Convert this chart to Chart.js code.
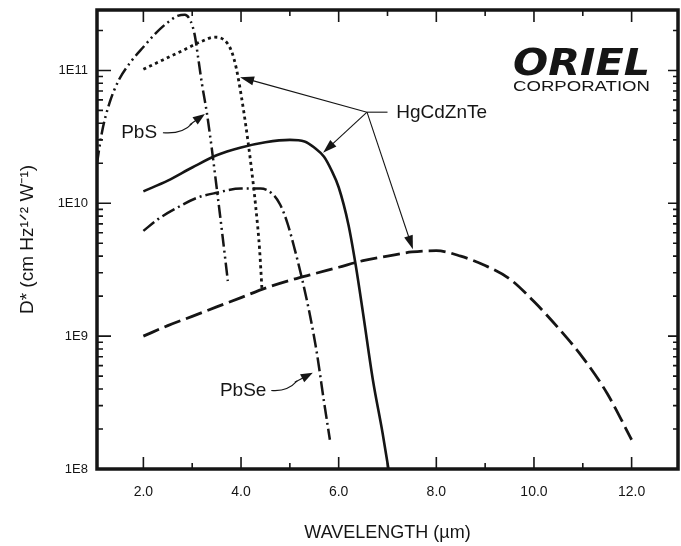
<!DOCTYPE html>
<html>
<head>
<meta charset="utf-8">
<script src="https://cdn.jsdelivr.net/npm/chart.js@4.4.1/dist/chart.umd.min.js"></script>
<style>
  html, body { margin: 0; padding: 0; background: #fff; }
  #wrap { width: 681px; height: 546px; position: relative; }
</style>
</head>
<body>
<div id="wrap"><canvas id="detector-chart"></canvas></div>
<script>
// wavelength in um, D* in cm Hz^1/2 W^-1
const pbsWavelength = [1.05, 1.15, 1.3, 1.5, 1.75, 2.0, 2.25, 2.5, 2.7, 2.85, 2.97, 3.05, 3.12, 3.2, 3.3, 3.4, 3.5, 3.6, 3.73];
const pbsDetectivity = [2.0e10, 3.4e10, 5.6e10, 8.5e10, 1.17e11, 1.5e11, 1.9e11, 2.3e11, 2.57e11, 2.63e11, 2.34e11, 1.86e11, 1.26e11, 7.9e10, 4.8e10, 2.6e10, 1.32e10, 6.6e9, 2.6e9];

const hgShortWavelength = [2.0, 2.4, 2.8, 3.2, 3.45, 3.65, 3.8, 3.9, 4.0, 4.1, 4.2, 4.3, 4.38, 4.43];
const hgShortDetectivity = [1.02e11, 1.2e11, 1.41e11, 1.66e11, 1.78e11, 1.7e11, 1.41e11, 1.05e11, 6.6e10, 3.8e10, 2.0e10, 9.5e9, 4.5e9, 2.2e9];

const hgMidWavelength = [2.0, 2.5, 3.0, 3.5, 4.0, 4.5, 5.0, 5.3, 5.5, 5.7, 5.85, 6.0, 6.2, 6.35, 6.5, 6.7, 6.9, 7.02];
const hgMidDetectivity = [1.23e10, 1.48e10, 1.86e10, 2.3e10, 2.63e10, 2.88e10, 3.0e10, 2.92e10, 2.63e10, 2.24e10, 1.78e10, 1.32e10, 6.9e9, 3.4e9, 1.48e9, 4.7e8, 1.86e8, 1.0e8];

const pbseWavelength = [2.0, 2.3, 2.7, 3.1, 3.5, 4.0, 4.4, 4.65, 4.8, 4.95, 5.1, 5.25, 5.4, 5.55, 5.7, 5.82];
const pbseDetectivity = [6.2e9, 7.6e9, 9.3e9, 1.1e10, 1.2e10, 1.29e10, 1.29e10, 1.17e10, 9.8e9, 7.1e9, 4.5e9, 2.7e9, 1.51e9, 7.6e8, 3.2e8, 1.66e8];

const hgLongWavelength = [2.0, 2.5, 3.0, 3.5, 4.0, 4.5, 5.0, 5.5, 6.0, 6.5, 7.0, 7.5, 8.0, 8.5, 9.0, 9.5, 10.0, 10.5, 11.0, 11.5, 12.0];
const hgLongDetectivity = [1.0e9, 1.2e9, 1.41e9, 1.66e9, 1.95e9, 2.3e9, 2.63e9, 2.95e9, 3.3e9, 3.7e9, 4.0e9, 4.3e9, 4.4e9, 4.0e9, 3.4e9, 2.7e9, 1.82e9, 1.15e9, 6.9e8, 3.7e8, 1.66e8];

const xMajorValues = [2, 4, 6, 8, 10, 12];
const xTickLabels = ['2.0', '4.0', '6.0', '8.0', '10.0', '12.0'];
const xMinorValues = [3, 5, 7, 9, 11];
const yMajorValues = [1e8, 1e9, 1e10, 1e11];
const yTickLabels = ['1E8', '1E9', '1E10', '1E11'];

const ink = '#151515';
const fontName = "'Liberation Sans', Arial, sans-serif";

function toPoints(xs, ys) {
  return xs.map((v, i) => ({ x: v, y: ys[i] }));
}

function yMinorValues() {
  const out = [];
  [1e8, 1e9, 1e10, 1e11].forEach(d => {
    for (let m = 2; m <= 9; m++) {
      if (m * d < 2.85e11) out.push(m * d);
    }
  });
  return out;
}

function curve(label, xs, ys, dash, width) {
  return {
    label: label,
    data: toPoints(xs, ys),
    borderColor: ink,
    borderWidth: width,
    borderDash: dash,
    borderCapStyle: 'butt',
    pointRadius: 0,
    cubicInterpolationMode: 'monotone',
    fill: false
  };
}

function drawArrow(ctx, x0, y0, x1, y1, head) {
  const ang = Math.atan2(y1 - y0, x1 - x0);
  ctx.beginPath();
  ctx.moveTo(x0, y0);
  ctx.lineTo(x1 - Math.cos(ang) * head * 0.8, y1 - Math.sin(ang) * head * 0.8);
  ctx.stroke();
  ctx.beginPath();
  ctx.moveTo(x1, y1);
  ctx.lineTo(x1 - head * Math.cos(ang) + 4.5 * Math.sin(ang), y1 - head * Math.sin(ang) - 4.5 * Math.cos(ang));
  ctx.lineTo(x1 - head * Math.cos(ang) - 4.5 * Math.sin(ang), y1 - head * Math.sin(ang) + 4.5 * Math.cos(ang));
  ctx.closePath();
  ctx.fill();
}

const frameAndTicks = {
  id: 'frameAndTicks',
  afterDatasetsDraw(chart) {
    const { ctx, chartArea: a, scales: { x, y } } = chart;
    ctx.save();
    ctx.strokeStyle = ink;
    ctx.lineWidth = 1.6;
    ctx.beginPath();
    xMajorValues.concat(xMinorValues).forEach(v => {
      const px = x.getPixelForValue(v);
      const len = xMajorValues.includes(v) ? 12 : 6;
      ctx.moveTo(px, a.bottom);
      ctx.lineTo(px, a.bottom - len);
      ctx.moveTo(px, a.top);
      ctx.lineTo(px, a.top + len);
    });
    const minors = yMinorValues();
    yMajorValues.concat(minors).forEach(v => {
      const py = y.getPixelForValue(v);
      const major = yMajorValues.includes(v);
      ctx.moveTo(a.left, py);
      ctx.lineTo(a.left + (major ? 14 : 6), py);
      ctx.moveTo(a.right, py);
      ctx.lineTo(a.right - (major ? 10 : 5), py);
    });
    ctx.stroke();
    ctx.lineWidth = 3.5;
    ctx.strokeRect(a.left, a.top, a.right - a.left, a.bottom - a.top);
    ctx.restore();
  }
};

const callouts = {
  id: 'callouts',
  afterDatasetsDraw(chart) {
    const { ctx, chartArea: a, scales: { x, y } } = chart;
    const X = v => x.getPixelForValue(v);
    const Y = v => y.getPixelForValue(v);
    ctx.save();
    ctx.fillStyle = ink;
    ctx.strokeStyle = ink;
    ctx.lineWidth = 1.1;
    ctx.font = '19px ' + fontName;
    ctx.textBaseline = 'middle';

    // PbS
    ctx.textAlign = 'right';
    ctx.fillText('PbS', X(2.28), Y(3.4e10));
    ctx.beginPath();
    ctx.moveTo(X(2.4), Y(3.4e10));
    ctx.quadraticCurveTo(X(2.8), Y(3.3e10), X(3.0), Y(4.0e10));
    ctx.stroke();
    drawArrow(ctx, X(2.95), Y(3.9e10), X(3.26), Y(4.7e10), 12);

    // PbSe
    ctx.fillText('PbSe', X(4.52), Y(3.9e8));
    ctx.beginPath();
    ctx.moveTo(X(4.62), Y(3.9e8));
    ctx.quadraticCurveTo(X(4.95), Y(3.8e8), X(5.15), Y(4.6e8));
    ctx.stroke();
    drawArrow(ctx, X(5.1), Y(4.5e8), X(5.47), Y(5.3e8), 12);

    // HgCdZnTe
    ctx.textAlign = 'left';
    ctx.fillText('HgCdZnTe', X(7.18), Y(4.8e10));
    const hx = X(6.58), hy = Y(4.85e10);
    ctx.beginPath();
    ctx.moveTo(hx, hy);
    ctx.lineTo(X(7.0), hy);
    ctx.stroke();
    drawArrow(ctx, hx, hy, X(3.98), Y(8.9e10), 14);
    drawArrow(ctx, hx, hy, X(5.68), Y(2.4e10), 14);
    drawArrow(ctx, hx, hy, X(7.52), Y(4.5e9), 14);

    // logo
    const right = a.right - 28;
    const w = 137;
    ctx.textAlign = 'left';
    ctx.textBaseline = 'alphabetic';
    ctx.font = 'italic 900 38px ' + "'DejaVu Sans', sans-serif";
    let m = ctx.measureText('ORIEL').width;
    ctx.save();
    ctx.translate(right - w, a.top + 65);
    ctx.scale(w / m, 1);
    ctx.fillText('ORIEL', 0, 0);
    ctx.restore();
    ctx.font = '15px ' + fontName;
    m = ctx.measureText('CORPORATION').width;
    ctx.save();
    ctx.translate(right - w, a.top + 81);
    ctx.scale(w / m, 1);
    ctx.fillText('CORPORATION', 0, 0);
    ctx.restore();
    ctx.restore();
  }
};

document.addEventListener('DOMContentLoaded', () => {
  const ctx = document.getElementById('detector-chart').getContext('2d');
  new Chart(ctx, {
    type: 'line',
    data: {
      datasets: [
        curve('PbS', pbsWavelength, pbsDetectivity, [13, 4, 2, 4, 2, 4], 2.5),
        curve('HgCdZnTe (short)', hgShortWavelength, hgShortDetectivity, [3, 3.5], 2.8),
        curve('HgCdZnTe (mid)', hgMidWavelength, hgMidDetectivity, [], 2.6),
        curve('PbSe', pbseWavelength, pbseDetectivity, [14, 4, 2, 4], 2.5),
        curve('HgCdZnTe (long)', hgLongWavelength, hgLongDetectivity, [17, 6], 2.8)
      ]
    },
    options: {
      responsive: true,
      maintainAspectRatio: false,
      animation: false,
      layout: { padding: { top: 10, right: 3, left: 0, bottom: 0 } },
      plugins: {
        legend: { display: false },
        tooltip: { enabled: false }
      },
      scales: {
        x: {
          type: 'linear',
          min: 1.05,
          max: 12.95,
          afterBuildTicks: scale => {
            scale.ticks = xMajorValues.map(v => ({ value: v }));
          },
          afterFit: scale => {
            scale.height = 77;
            scale.paddingLeft = 0;
            scale.paddingRight = 0;
          },
          grid: { display: false, drawTicks: false },
          border: { display: false },
          ticks: {
            autoSkip: false,
            maxRotation: 0,
            padding: 15,
            color: ink,
            font: { family: fontName, size: 14 },
            callback: value => xTickLabels[xMajorValues.indexOf(value)] || ''
          },
          title: {
            display: true,
            text: 'WAVELENGTH (µm)',
            color: ink,
            font: { family: fontName, size: 18 },
            padding: { top: 0, bottom: 2 }
          }
        },
        y: {
          type: 'logarithmic',
          min: 1e8,
          max: 2.85e11,
          afterBuildTicks: scale => {
            scale.ticks = yMajorValues.map(v => ({ value: v }));
          },
          afterFit: scale => {
            scale.width = 97;
            scale.paddingTop = 0;
            scale.paddingBottom = 0;
          },
          grid: { display: false, drawTicks: false },
          border: { display: false },
          ticks: {
            autoSkip: false,
            padding: 9,
            color: ink,
            font: { family: fontName, size: 13 },
            callback: value => yTickLabels[yMajorValues.indexOf(value)] || ''
          },
          title: {
            display: true,
            text: 'D* (cm Hz¹ᐟ² W⁻¹)',
            color: ink,
            font: { family: fontName, size: 19 },
            padding: { top: 16, bottom: 0 }
          }
        }
      }
    },
    plugins: [frameAndTicks, callouts]
  });
});
</script>
</body>
</html>
